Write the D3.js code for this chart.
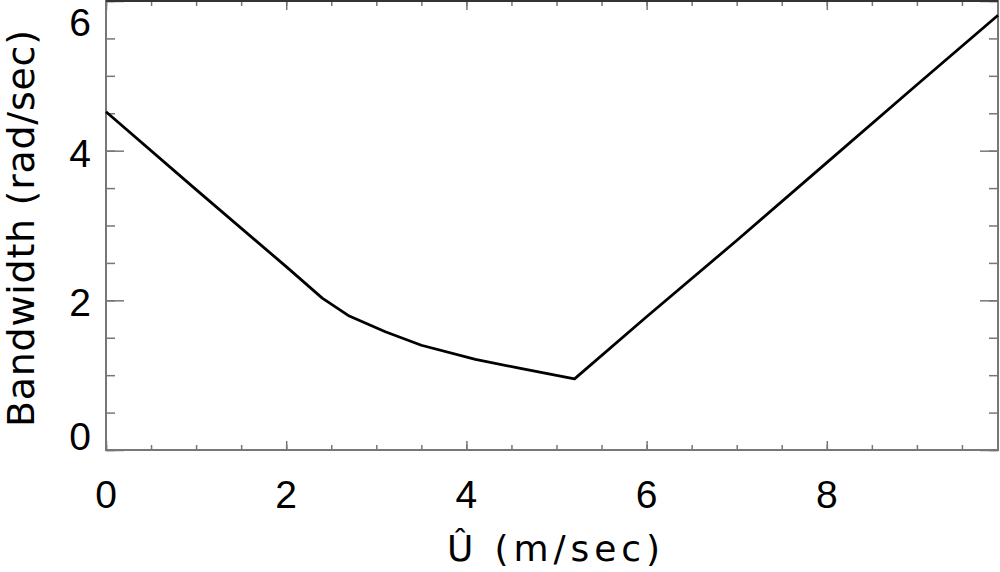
<!DOCTYPE html>
<html><head><meta charset="utf-8">
<script src="https://cdn.jsdelivr.net/npm/d3@7"></script>
<style>body{margin:0;background:#fff}svg{display:block}text{font-family:"Liberation Sans",Arial,sans-serif;fill:#000}text.title{font-family:"DejaVu Sans",sans-serif}</style>
</head><body>
<script>
const uValues = [0, 1, 2, 2.4, 2.7, 3.1, 3.5, 4.1, 4.6, 5.2, 6, 7, 8, 9, 9.9];
const bandwidth = [4.52, 3.48, 2.45, 2.03, 1.79, 1.58, 1.40, 1.21, 1.09, 0.95, 1.78, 2.80, 3.84, 4.88, 5.81];
const xTickLabels = [0, 2, 4, 6, 8];
const yTickLabels = [0, 2, 4, 6];
const xTitle = "\u00DB (m/sec)";
const yTitle = "Bandwidth (rad/sec)";

const W = 1000, H = 572;
const L = 106, R = 998, T = 1, B = 450;
const svg = d3.select("body").append("svg").attr("width", W).attr("height", H);
const x = d3.scaleLinear().domain([0, 9.9]).range([L, R]);
const y = d3.scaleLinear().domain([0, 6]).range([B, T]);

const axisColor = "#777";
const xMinor = d3.range(0, 9.9, 0.5);
const yMinor = d3.range(0, 6.01, 0.5);

function styleAxis(g){ g.select(".domain").remove(); g.selectAll("line").attr("stroke", axisColor).attr("stroke-width", 1.5); g.selectAll("text").remove(); }

// bottom
svg.append("g").attr("transform", `translate(0,${B})`)
  .call(d3.axisTop(x).tickValues(xMinor).tickSize(5)).call(styleAxis);
svg.append("g").attr("transform", `translate(0,${B})`)
  .call(d3.axisTop(x).tickValues(xTickLabels).tickSize(9)).call(styleAxis);
// top
svg.append("g").attr("transform", `translate(0,${T})`)
  .call(d3.axisBottom(x).tickValues(xMinor).tickSize(5)).call(styleAxis);
svg.append("g").attr("transform", `translate(0,${T})`)
  .call(d3.axisBottom(x).tickValues(xTickLabels).tickSize(9)).call(styleAxis);
// left
svg.append("g").attr("transform", `translate(${L},0)`)
  .call(d3.axisRight(y).tickValues(yMinor).tickSize(9)).call(styleAxis);
svg.append("g").attr("transform", `translate(${L},0)`)
  .call(d3.axisRight(y).tickValues(yTickLabels).tickSize(18)).call(styleAxis);
// right
svg.append("g").attr("transform", `translate(${R},0)`)
  .call(d3.axisLeft(y).tickValues(yMinor).tickSize(9)).call(styleAxis);
svg.append("g").attr("transform", `translate(${R},0)`)
  .call(d3.axisLeft(y).tickValues(yTickLabels).tickSize(18)).call(styleAxis);

// frame
svg.append("rect").attr("x", L).attr("y", T).attr("width", R - L).attr("height", B - T)
  .attr("fill", "none").attr("stroke", axisColor).attr("stroke-width", 2);
svg.append("line").attr("x1", L).attr("x2", R).attr("y1", T).attr("y2", T).attr("stroke", "#333").attr("stroke-width", 2);

// tick labels
svg.append("g").selectAll("text").data(xTickLabels).join("text")
  .attr("x", d => x(d)).attr("y", 508).attr("text-anchor", "middle")
  .attr("font-size", 39).text(d => d);
svg.append("g").selectAll("text").data(yTickLabels).join("text")
  .attr("x", 91).attr("y", d => Math.min(450, Math.max(36, y(d) + 16)))
  .attr("text-anchor", "end").attr("font-size", 39).text(d => d);

// titles
svg.append("text").attr("class", "title").attr("x", 447).attr("y", 561).attr("font-size", 36)
  .attr("textLength", 213).attr("lengthAdjust", "spacing").text(xTitle);
svg.append("text").attr("class", "title").attr("transform", "translate(34,427) rotate(-90)")
  .attr("font-size", 38).attr("textLength", 397).attr("lengthAdjust", "spacing").text(yTitle);

// line
const line = d3.line().x((d, i) => x(uValues[i])).y(d => y(d));
svg.append("path").datum(bandwidth).attr("d", line)
  .attr("fill", "none").attr("stroke", "#000").attr("stroke-width", 2.8).attr("stroke-linejoin", "round");
</script>
</body></html>
